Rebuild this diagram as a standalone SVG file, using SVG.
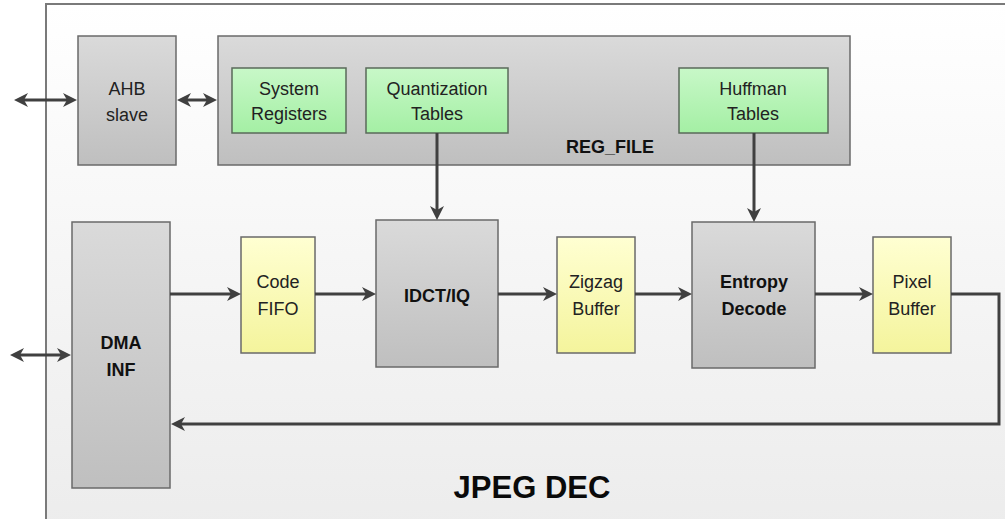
<svg xmlns="http://www.w3.org/2000/svg" width="1005" height="519" viewBox="0 0 1005 519">
<defs>
  <linearGradient id="gOuter" x1="0" y1="0" x2="0" y2="1">
    <stop offset="0" stop-color="#ffffff"/>
    <stop offset="1" stop-color="#ececec"/>
  </linearGradient>
  <linearGradient id="gGray" x1="0" y1="0" x2="0" y2="1">
    <stop offset="0" stop-color="#dadada"/>
    <stop offset="1" stop-color="#bfbfbf"/>
  </linearGradient>
  <linearGradient id="gGreen" x1="0" y1="0" x2="0" y2="1">
    <stop offset="0" stop-color="#c8f8c8"/>
    <stop offset="1" stop-color="#a4efa4"/>
  </linearGradient>
  <linearGradient id="gYellow" x1="0" y1="0" x2="0" y2="1">
    <stop offset="0" stop-color="#ffffd2"/>
    <stop offset="1" stop-color="#f4f49c"/>
  </linearGradient>
  <marker id="arr" markerUnits="userSpaceOnUse" markerWidth="16" markerHeight="16" refX="4" refY="7" orient="auto-start-reverse">
    <path d="M0,0 L14,7 L0,14 L4,7 z" fill="#404040"/>
  </marker>
  <style>
    .gray{fill:url(#gGray);stroke:#6a6a6a;stroke-width:1.5}
    .green{fill:url(#gGreen);stroke:#5a6a5a;stroke-width:1.5}
    .yellow{fill:url(#gYellow);stroke:#6a6a6a;stroke-width:1.5}
    .t{font-family:"Liberation Sans",Arial,sans-serif;font-size:18px;fill:#222;text-anchor:middle}
    .b{font-weight:bold;fill:#111}
    .c{fill:none;stroke:#404040;stroke-width:3}
  </style>
</defs>

<g id="outer">
  <rect x="46" y="4" width="980" height="530" fill="url(#gOuter)" stroke="#7a7a7a" stroke-width="2"/>
  <text class="t b" x="532" y="498" style="font-size:31px;fill:#0a0a0a">JPEG DEC</text>
</g>

<g id="ahb">
  <rect class="gray" x="78" y="36" width="98" height="129"/>
  <text class="t" x="127" y="95">AHB</text>
  <text class="t" x="127" y="121">slave</text>
</g>

<g id="regfile">
  <rect class="gray" x="218" y="36" width="632" height="129"/>
  <text class="t b" x="610" y="153">REG_FILE</text>
</g>

<g id="sysreg">
  <rect class="green" x="232" y="68" width="114" height="65"/>
  <text class="t" x="289" y="95">System</text>
  <text class="t" x="289" y="120">Registers</text>
</g>

<g id="quant">
  <rect class="green" x="366" y="68" width="142" height="65"/>
  <text class="t" x="437" y="95">Quantization</text>
  <text class="t" x="437" y="120">Tables</text>
</g>

<g id="huff">
  <rect class="green" x="679" y="68" width="149" height="65"/>
  <text class="t" x="753" y="95">Huffman</text>
  <text class="t" x="753" y="120">Tables</text>
</g>

<g id="dma">
  <rect class="gray" x="72" y="222" width="98" height="266"/>
  <text class="t b" x="121" y="349">DMA</text>
  <text class="t b" x="121" y="376">INF</text>
</g>

<g id="codefifo">
  <rect class="yellow" x="241" y="237" width="74" height="116"/>
  <text class="t" x="278" y="288">Code</text>
  <text class="t" x="278" y="315">FIFO</text>
</g>

<g id="idct">
  <rect class="gray" x="376" y="220" width="122" height="147"/>
  <text class="t b" x="437" y="302">IDCT/IQ</text>
</g>

<g id="zigzag">
  <rect class="yellow" x="557" y="237" width="78" height="116"/>
  <text class="t" x="596" y="288">Zigzag</text>
  <text class="t" x="596" y="315">Buffer</text>
</g>

<g id="entropy">
  <rect class="gray" x="692" y="222" width="123" height="146"/>
  <text class="t b" x="754" y="288">Entropy</text>
  <text class="t b" x="754" y="315">Decode</text>
</g>

<g id="pixel">
  <rect class="yellow" x="873" y="237" width="78" height="116"/>
  <text class="t" x="912" y="288">Pixel</text>
  <text class="t" x="912" y="315">Buffer</text>
</g>

<g id="connectors">
  <line class="c" x1="24" y1="100" x2="67" y2="100" marker-start="url(#arr)" marker-end="url(#arr)"/>
  <line class="c" x1="187" y1="100" x2="207" y2="100" marker-start="url(#arr)" marker-end="url(#arr)"/>
  <line class="c" x1="20" y1="355" x2="61" y2="355" marker-start="url(#arr)" marker-end="url(#arr)"/>
  <line class="c" x1="170" y1="294" x2="231" y2="294" marker-end="url(#arr)"/>
  <line class="c" x1="315" y1="294" x2="366" y2="294" marker-end="url(#arr)"/>
  <line class="c" x1="498" y1="294" x2="547" y2="294" marker-end="url(#arr)"/>
  <line class="c" x1="635" y1="294" x2="682" y2="294" marker-end="url(#arr)"/>
  <line class="c" x1="815" y1="294" x2="863" y2="294" marker-end="url(#arr)"/>
  <path class="c" d="M951,294 H999 V424 H181" marker-end="url(#arr)"/>
  <line class="c" x1="437" y1="133" x2="437" y2="210" marker-end="url(#arr)"/>
  <line class="c" x1="754" y1="133" x2="754" y2="212" marker-end="url(#arr)"/>
</g>
</svg>
